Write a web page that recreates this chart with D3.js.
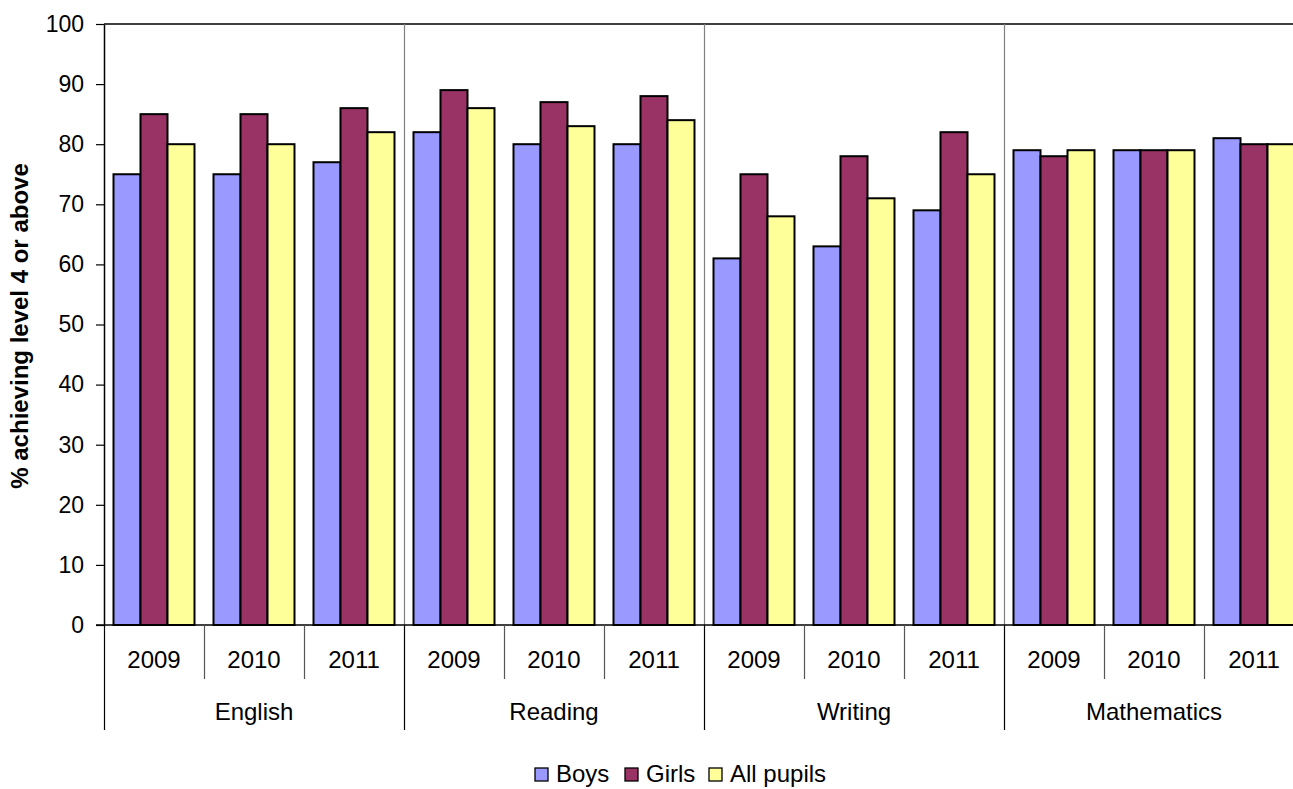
<!DOCTYPE html>
<html>
<head>
<meta charset="utf-8">
<script src="https://cdn.jsdelivr.net/npm/d3@7"></script>
<style>
  html, body { margin: 0; padding: 0; background: #fff; overflow: hidden; }
  svg { display: block; font-family: "Liberation Sans", Arial, sans-serif; }
</style>
</head>
<body>
<svg id="chart" width="1293" height="789"></svg>
<script>
const subjects = ["English", "Reading", "Writing", "Mathematics"];
const years = ["2009", "2010", "2011"];
const seriesNames = ["Boys", "Girls", "All pupils"];
const seriesColors = ["#9999FF", "#993366", "#FFFF99"];
const boys = [75, 75, 77, 82, 80, 80, 61, 63, 69, 79, 79, 81];
const girls = [85, 85, 86, 89, 87, 88, 75, 78, 82, 78, 79, 80];
const allPupils = [80, 80, 82, 86, 83, 84, 68, 71, 75, 79, 79, 80];
const yTicks = [0, 10, 20, 30, 40, 50, 60, 70, 80, 90, 100];
const yLabel = "% achieving level 4 or above";

(function () {
const seriesValues = [boys, girls, allPupils];
const slots = [];
subjects.forEach(s => years.forEach(y => slots.push(s + "|" + y)));

const svg = d3.select("#chart");
const pLeft = 104, pRight = 1304, pTop = 24, pBottom = 625;

const x0 = d3.scaleBand().domain(slots).range([pLeft, pRight]).paddingInner(0).paddingOuter(0);
const x1 = d3.scaleBand().domain(seriesNames).range([0, x0.bandwidth()]).paddingInner(0).paddingOuter(0.352);
const y = d3.scaleLinear().domain([0, 100]).range([pBottom, pTop]);

// top border
svg.append("line").attr("x1", pLeft).attr("x2", pRight).attr("y1", pTop).attr("y2", pTop)
  .attr("stroke", "#000").attr("stroke-width", 1.5);

// subject separators in plot
subjects.forEach((s, i) => {
  if (i === 0) return;
  const xx = Math.round(x0(s + "|" + years[0])) + 0.5;
  svg.append("line").attr("x1", xx).attr("x2", xx).attr("y1", pTop).attr("y2", pBottom)
    .attr("stroke", "#808080").attr("stroke-width", 1.2);
});

// bars
const g = svg.append("g");
slots.forEach((slot, i) => {
  seriesNames.forEach((sn, k) => {
    const v = seriesValues[k][i];
    g.append("rect")
      .attr("x", x0(slot) + x1(sn))
      .attr("y", y(v))
      .attr("width", x1.bandwidth())
      .attr("height", y(0) - y(v))
      .attr("fill", seriesColors[k])
      .attr("stroke", "#000")
      .attr("stroke-width", 2);
  });
});

// y axis
const yAxis = d3.axisLeft(y).tickValues(yTicks).tickSize(8).tickPadding(12).tickSizeOuter(0);
const ya = svg.append("g").attr("transform", `translate(${pLeft},0)`).call(yAxis);
ya.select(".domain").attr("stroke", "#000").attr("stroke-width", 1.5);
ya.selectAll(".tick line").attr("stroke", "#000").attr("stroke-width", 1.2);
ya.selectAll(".tick text").attr("font-size", 23).attr("fill", "#000")
  .attr("font-family", "'Liberation Sans', Arial, sans-serif");

// x baseline
svg.append("line").attr("x1", pLeft - 8).attr("x2", pRight).attr("y1", pBottom).attr("y2", pBottom)
  .attr("stroke", "#000").attr("stroke-width", 1.5);

// category separators below axis
slots.forEach((slot, i) => {
  const xx = Math.round(x0(slot)) + 0.5;
  const isSubject = i % 3 === 0;
  svg.append("line").attr("x1", xx).attr("x2", xx)
    .attr("y1", pBottom).attr("y2", isSubject ? 730 : 679)
    .attr("stroke", isSubject ? "#000" : "#555").attr("stroke-width", 1.2);
});

// year labels
slots.forEach((slot, i) => {
  svg.append("text")
    .attr("x", x0(slot) + x0.bandwidth() / 2)
    .attr("y", 668)
    .attr("text-anchor", "middle")
    .attr("font-size", 24)
    .text(years[i % 3]);
});

// subject labels
subjects.forEach(s => {
  const xs = x0(s + "|" + years[0]);
  const xe = x0(s + "|" + years[2]) + x0.bandwidth();
  svg.append("text")
    .attr("x", (xs + xe) / 2)
    .attr("y", 720)
    .attr("text-anchor", "middle")
    .attr("font-size", 24)
    .text(s);
});

// y label
svg.append("text")
  .attr("transform", "translate(28,326) rotate(-90)")
  .attr("text-anchor", "middle")
  .attr("font-size", 24)
  .attr("font-weight", "bold")
  .text(yLabel);

// legend
const legendItems = [
  { name: seriesNames[0], color: seriesColors[0], x: 535 },
  { name: seriesNames[1], color: seriesColors[1], x: 625 },
  { name: seriesNames[2], color: seriesColors[2], x: 709 }
];
legendItems.forEach(it => {
  svg.append("rect").attr("x", it.x).attr("y", 768).attr("width", 13).attr("height", 13)
    .attr("fill", it.color).attr("stroke", "#000").attr("stroke-width", 1.3);
  svg.append("text").attr("x", it.x + 21).attr("y", 782).attr("font-size", 24).text(it.name);
});
})();
</script>
</body>
</html>
